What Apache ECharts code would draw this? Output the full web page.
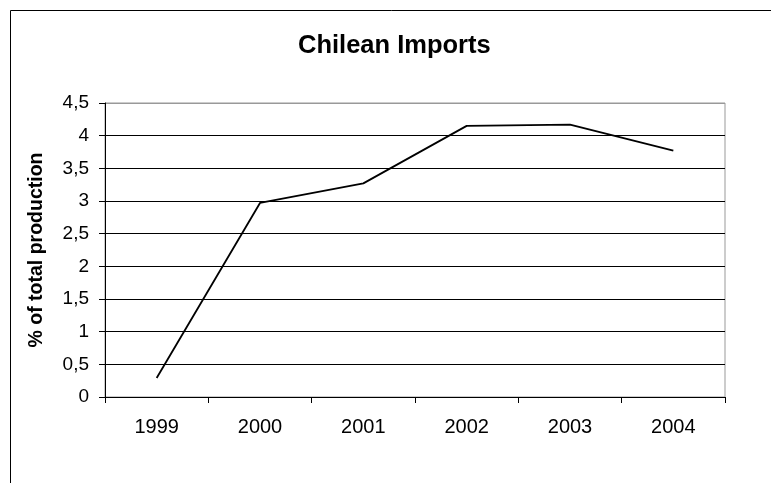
<!DOCTYPE html>
<html>
<head>
<meta charset="utf-8">
<script src="https://cdn.jsdelivr.net/npm/echarts@6/dist/echarts.min.js"></script>
<style>
  html, body { margin: 0; padding: 0; background: #fff; }
  #chart { width: 771px; height: 483px; }
</style>
</head>
<body>
<div id="chart"></div>
<script>
var years = ['1999', '2000', '2001', '2002', '2003', '2004'];
var importShare = [0.29, 2.97, 3.27, 4.15, 4.17, 3.77];
var yTicks = [0, 0.5, 1, 1.5, 2, 2.5, 3, 3.5, 4, 4.5];

var font = 'Liberation Sans, Arial, sans-serif';
var gridColors = yTicks.map(function (v, i) { return i === yTicks.length - 1 ? '#999' : '#000'; });

var chart = echarts.init(document.getElementById('chart'), null, { renderer: 'canvas' });
chart.setOption({
  backgroundColor: '#fff',
  animation: false,
  title: {
    text: 'Chilean Imports',
    left: 293,
    top: 28,
    textStyle: { fontFamily: font, fontSize: 25.5, fontWeight: 'bold', color: '#000' }
  },
  graphic: [{
    type: 'rect',
    shape: { x: 10.5, y: 10.5, width: 800, height: 500 },
    style: { fill: 'none', stroke: '#000', lineWidth: 1 },
    silent: true
  }],
  grid: {
    left: 105, top: 103, right: 46, bottom: 86,
    show: true, borderColor: '#999', borderWidth: 1, backgroundColor: 'transparent'
  },
  xAxis: {
    type: 'category',
    data: years,
    boundaryGap: true,
    axisLine: { lineStyle: { color: '#000', width: 1 } },
    axisTick: { show: true, length: 6, inside: false, lineStyle: { color: '#000' } },
    axisLabel: { fontFamily: font, fontSize: 20, color: '#000', margin: 20 }
  },
  yAxis: {
    type: 'value',
    min: 0, max: 4.5, interval: 0.5,
    name: '% of total production',
    nameLocation: 'middle',
    nameGap: 58,
    nameTextStyle: { fontFamily: font, fontSize: 19.5, fontWeight: 'bold', color: '#000' },
    axisLine: { show: true, lineStyle: { color: '#000', width: 1 } },
    axisTick: { show: true, length: 6, lineStyle: { color: '#000' } },
    axisLabel: {
      fontFamily: font, fontSize: 19, color: '#000', margin: 16,
      formatter: function (v) { return String(v).replace('.', ','); }
    },
    splitLine: { show: true, lineStyle: { color: gridColors, width: 1 } }
  },
  series: [{
    type: 'line',
    data: importShare,
    symbol: 'none',
    lineStyle: { color: '#000', width: 1.8 }
  }]
});
</script>
</body>
</html>
